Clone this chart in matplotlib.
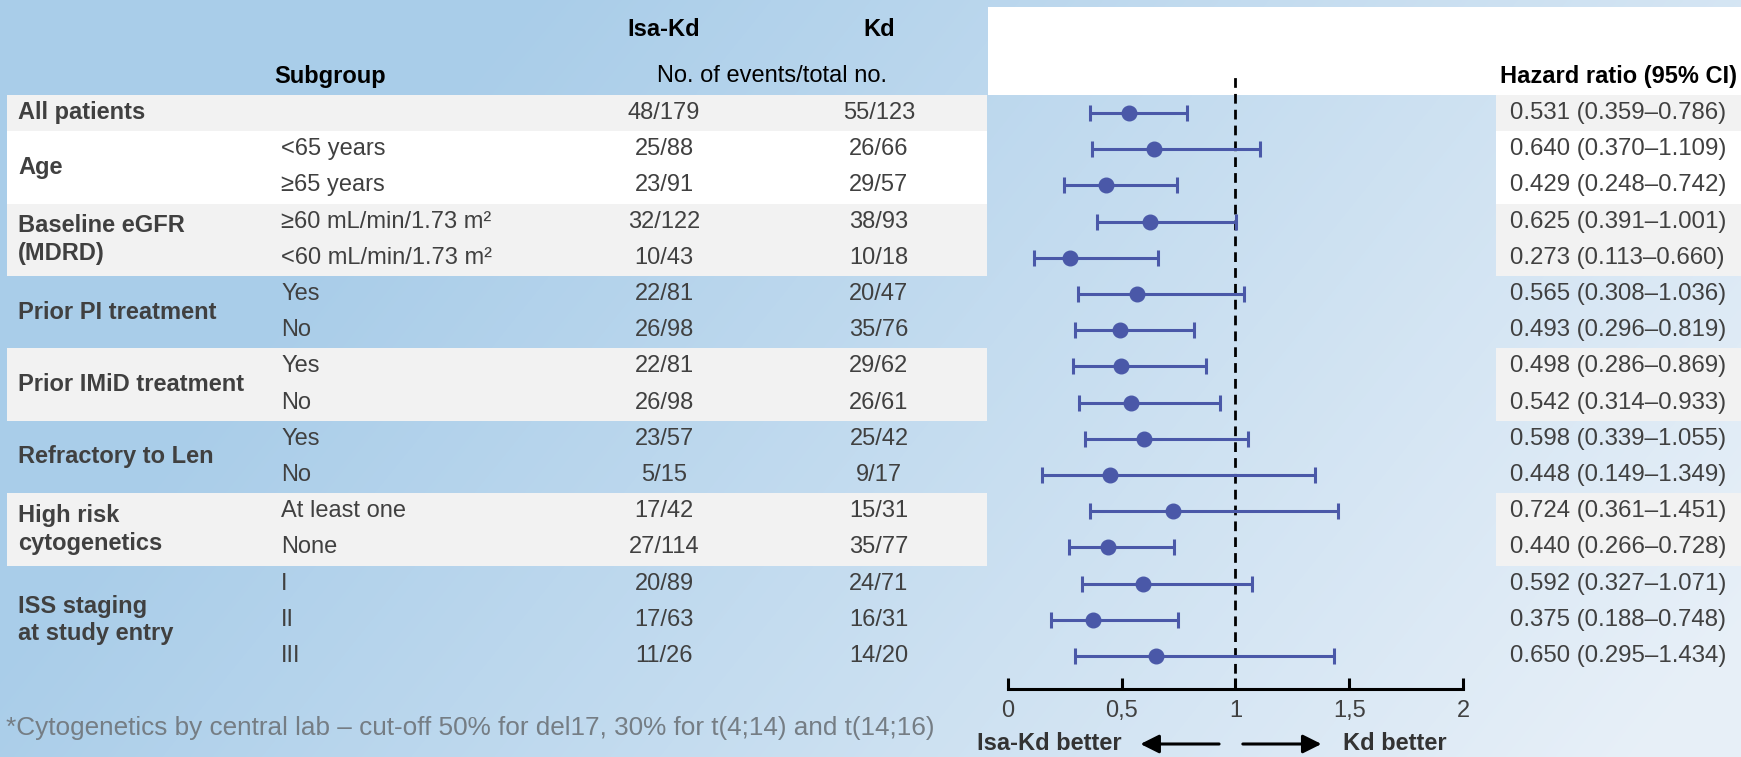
import numpy as np
import matplotlib
matplotlib.use('Agg')
import matplotlib.pyplot as plt
from matplotlib.patches import Rectangle
from matplotlib.colors import to_rgb

# ---- data ----
groups = ['All patients', 'Age', 'Baseline eGFR\n(MDRD)', 'Prior PI treatment',
          'Prior IMiD treatment', 'Refractory to Len', 'High risk\ncytogenetics',
          'ISS staging\nat study entry']
group_sizes = [1, 2, 2, 2, 2, 2, 2, 3]
group_fill = ['#f2f2f2', 'white', '#f2f2f2', None, '#f2f2f2', None, '#f2f2f2', None]

subgroups = ['', '<65 years', '≥65 years', '≥60 mL/min/1.73 m²', '<60 mL/min/1.73 m²',
             'Yes', 'No', 'Yes', 'No', 'Yes', 'No', 'At least one', 'None', 'I', 'II', 'III']
isa_kd_events = ['48/179', '25/88', '23/91', '32/122', '10/43', '22/81', '26/98', '22/81',
                 '26/98', '23/57', '5/15', '17/42', '27/114', '20/89', '17/63', '11/26']
kd_events = ['55/123', '26/66', '29/57', '38/93', '10/18', '20/47', '35/76', '29/62',
             '26/61', '25/42', '9/17', '15/31', '35/77', '24/71', '16/31', '14/20']
hr = np.array([0.531, 0.640, 0.429, 0.625, 0.273, 0.565, 0.493, 0.498,
               0.542, 0.598, 0.448, 0.724, 0.440, 0.592, 0.375, 0.650])
ci_low = np.array([0.359, 0.370, 0.248, 0.391, 0.113, 0.308, 0.296, 0.286,
                   0.314, 0.339, 0.149, 0.361, 0.266, 0.327, 0.188, 0.295])
ci_high = np.array([0.786, 1.109, 0.742, 1.001, 0.660, 1.036, 0.819, 0.869,
                    0.933, 1.055, 1.349, 1.451, 0.728, 1.071, 0.748, 1.434])
xticks = [0, 0.5, 1, 1.5, 2]
xtick_labels = ['0', '0,5', '1', '1,5', '2']

# ---- layout (pixels) ----
W, H = 1741, 757
ROW0, ROW_H = 113, 36.2
FONT = ['Liberation Sans', 'DejaVu Sans']
FS = 17
TXT = '#404040'
MARK = '#4a58a8'


def row_of(py):
    return (py - ROW0) / ROW_H


fig = plt.figure(figsize=(W / 100, H / 100), dpi=100)

# table / background axes: x in pixels, y in rows
tab = fig.add_axes([0, 0, 1, 1], zorder=0)
tab.set_xlim(0, W)
tab.set_ylim(row_of(H), row_of(0))
tab.axis('off')

xx, yy = np.meshgrid(np.arange(W), np.arange(H))
t = xx / W + 0.35 * yy / H - 0.3 + 0.2 * np.exp(-((xx / 250) ** 2 + (yy / 150) ** 2))
t = np.clip(t, 0, 1)[..., None]
c0, c1 = np.array(to_rgb('#a9cde9')), np.array(to_rgb('#e8f0f8'))
tab.imshow(c0 + (c1 - c0) * t, aspect='auto', extent=(0, W, row_of(H), row_of(0)), zorder=0)

# white header box over forest + HR column
tab.add_patch(Rectangle((988, row_of(95)), W - 988, row_of(7) - row_of(95),
                        facecolor='white', edgecolor='none', zorder=1))

rows = np.arange(len(subgroups))
start = 0
for g, n, fill in zip(groups, group_sizes, group_fill):
    if fill is not None:
        tab.add_patch(Rectangle((7, start - 0.5), 987 - 7, n, facecolor=fill,
                                edgecolor='none', zorder=1))
        tab.add_patch(Rectangle((1496, start - 0.5), W - 1496, n, facecolor=fill,
                                edgecolor='none', zorder=1))
    tab.text(18, start + (n - 1) / 2, g, family=FONT, fontsize=FS, fontweight='bold',
             color=TXT, va='center', ha='left', linespacing=1.25, zorder=3)
    start += n

for i in rows:
    tab.text(281, i, subgroups[i], family=FONT, fontsize=FS, color=TXT,
             va='center', ha='left', zorder=3)
    tab.text(664, i, isa_kd_events[i], family=FONT, fontsize=FS, color=TXT,
             va='center', ha='center', zorder=3)
    tab.text(879, i, kd_events[i], family=FONT, fontsize=FS, color=TXT,
             va='center', ha='center', zorder=3)
    tab.text(1510, i, f'{hr[i]:.3f} ({ci_low[i]:.3f}–{ci_high[i]:.3f})', family=FONT,
             fontsize=17.3, color=TXT, va='center', ha='left', zorder=3)

# headers
tab.text(664, row_of(30), 'Isa-Kd', family=FONT, fontsize=FS, fontweight='bold',
         color='black', ha='center', va='center', zorder=3)
tab.text(879, row_of(30), 'Kd', family=FONT, fontsize=FS, fontweight='bold',
         color='black', ha='center', va='center', zorder=3)
tab.text(330, row_of(76), 'Subgroup', family=FONT, fontsize=FS, fontweight='bold',
         color='black', ha='center', va='center', zorder=3)
tab.text(772, row_of(76), 'No. of events/total no.', family=FONT, fontsize=FS,
         color='black', ha='center', va='center', zorder=3)
tab.text(1618, row_of(76), 'Hazard ratio (95% CI)', family=FONT, fontsize=FS,
         fontweight='bold', color='black', ha='center', va='center', zorder=3)

# footnote
tab.text(6, row_of(728), '*Cytogenetics by central lab – cut-off 50% for del17, 30% for t(4;14) and t(14;16)',
         family=FONT, fontsize=18.8, color='#757d84', ha='left', va='center', zorder=3)

# ---- forest plot ----
top_px, bot_px = 72, 689
ax = fig.add_axes([1008 / W, 1 - bot_px / H, (1463 - 1008) / W, (bot_px - top_px) / H], zorder=2)
ax.patch.set_alpha(0)
ax.set_xlim(0, 2)
ax.set_ylim(row_of(bot_px), row_of(top_px))
for s in ['top', 'left', 'right']:
    ax.spines[s].set_visible(False)
ax.spines['bottom'].set_linewidth(2.2)
ax.set_yticks([])
ax.set_xticks(xticks)
ax.set_xticklabels(xtick_labels, family=FONT, fontsize=17, color=TXT)
ax.tick_params(axis='x', direction='in', length=8, width=2.2, pad=8)

ax.axvline(1, color='black', lw=2, ls=(0, (3.5, 2.2)), zorder=1)
ax.errorbar(hr, rows, xerr=[hr - ci_low, ci_high - hr], fmt='o', color=MARK, ms=10.5,
            elinewidth=2.2, capsize=6, capthick=2.2, zorder=3)

# direction arrows
ya = row_of(744)
arrow = dict(arrowstyle='-|>', lw=2.2, color='black', mutation_scale=28)
ax.annotate('', xy=(0.57, ya), xytext=(0.94, ya), arrowprops=arrow, annotation_clip=False)
ax.annotate('', xy=(1.39, ya), xytext=(1.02, ya), arrowprops=arrow, annotation_clip=False)
ax.text(0.18, ya, 'Isa-Kd better', family=FONT, fontsize=17, fontweight='bold',
        color='#333333', ha='center', va='center', clip_on=False)
ax.text(1.70, ya, 'Kd better', family=FONT, fontsize=17, fontweight='bold',
        color='#333333', ha='center', va='center', clip_on=False)

fig.savefig('out.png', dpi=100)
